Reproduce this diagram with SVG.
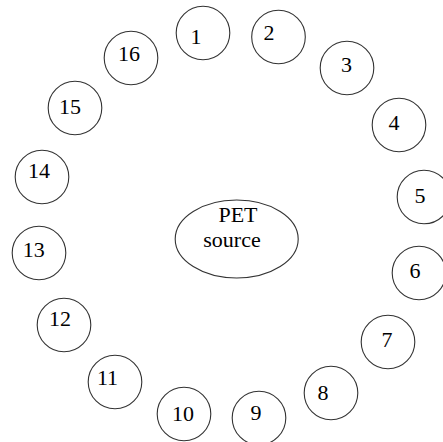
<svg xmlns="http://www.w3.org/2000/svg" width="443" height="442" viewBox="0 0 443 442">
<style>
.n{fill:#fff;stroke:#333;stroke-width:1.1}
.t{font-family:'Liberation Serif','Times New Roman',Times,serif;font-size:22px;fill:#000;text-anchor:middle}
</style>
<rect width="443" height="442" fill="#fff"/>
<g id="connectors"></g>
<g id="source"><ellipse class="n" cx="236.7" cy="239" rx="61.5" ry="39"/><text class="t" x="238" y="222">PET</text><text class="t" x="232" y="247">source</text></g>
<g id="d1"><circle class="n" cx="203" cy="33" r="26.8"/><text class="t" x="196" y="43.5">1</text></g>
<g id="d2"><circle class="n" cx="278.5" cy="37" r="26.8"/><text class="t" x="269" y="40">2</text></g>
<g id="d3"><circle class="n" cx="347" cy="68" r="26.8"/><text class="t" x="346.5" y="71.7">3</text></g>
<g id="d4"><circle class="n" cx="399" cy="125" r="26.8"/><text class="t" x="394" y="130">4</text></g>
<g id="d5"><circle class="n" cx="424" cy="197" r="26.8"/><text class="t" x="420" y="202.7">5</text></g>
<g id="d6"><circle class="n" cx="419" cy="273" r="26.8"/><text class="t" x="415" y="278.3">6</text></g>
<g id="d7"><circle class="n" cx="388" cy="342" r="26.8"/><text class="t" x="387" y="346.7">7</text></g>
<g id="d8"><circle class="n" cx="331" cy="393" r="26.8"/><text class="t" x="323" y="400">8</text></g>
<g id="d9"><circle class="n" cx="259" cy="418" r="26.8"/><text class="t" x="256" y="420">9</text></g>
<g id="d10"><circle class="n" cx="184" cy="414" r="26.8"/><text class="t" x="183" y="421">10</text></g>
<g id="d11"><circle class="n" cx="115" cy="382" r="26.8"/><text class="t" x="107.5" y="385">11</text></g>
<g id="d12"><circle class="n" cx="64" cy="325" r="26.8"/><text class="t" x="60" y="326">12</text></g>
<g id="d13"><circle class="n" cx="39" cy="253" r="26.8"/><text class="t" x="33.7" y="256.7">13</text></g>
<g id="d14"><circle class="n" cx="42" cy="177" r="26.8"/><text class="t" x="39" y="177.5">14</text></g>
<g id="d15"><circle class="n" cx="75" cy="108" r="26.8"/><text class="t" x="70" y="114">15</text></g>
<g id="d16"><circle class="n" cx="131" cy="58" r="26.8"/><text class="t" x="129" y="60.7">16</text></g>
</svg>
